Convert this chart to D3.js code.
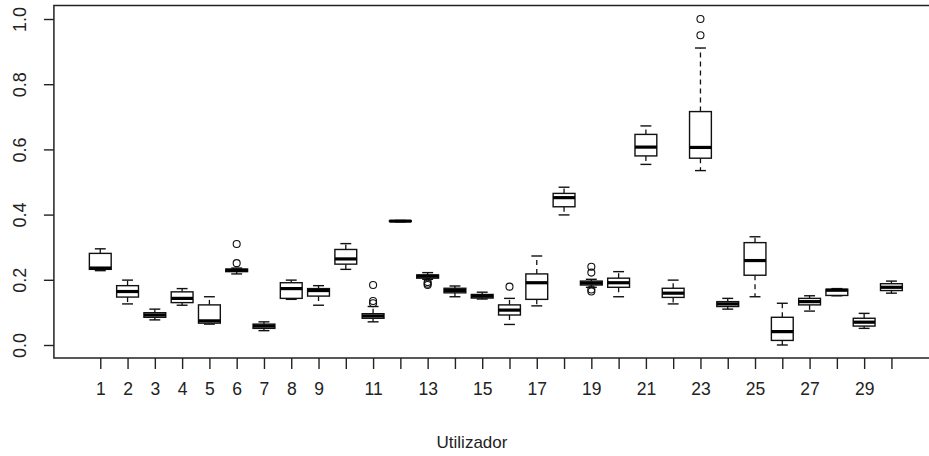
<!DOCTYPE html>
<html>
<head>
<meta charset="utf-8">
<script src="https://cdn.jsdelivr.net/npm/d3@7"></script>
<style>
  html, body { margin: 0; padding: 0; background: #fff; }
  svg { display: block; }
  text { font-family: "Liberation Sans", Arial, sans-serif; fill: #222; }
</style>
</head>
<body>
<svg id="chart" width="929" height="456"></svg>
<script>
// ---- data ----
const categories = d3.range(1, 31);
const whiskerLow  = [0.228,0.126,0.077,0.122,0.064,0.218,0.044,0.140,0.122,0.232,
                     0.071,0.378,0.2015,0.148,0.141,0.063,0.120,0.399,0.177,0.148,
                     0.554,0.126,0.535,0.110,0.148,0.000,0.104,0.151,0.051,0.159];
const q1Values    = [0.232,0.147,0.085,0.130,0.067,0.225,0.051,0.143,0.150,0.248,
                     0.082,0.379,0.205,0.160,0.144,0.092,0.140,0.424,0.184,0.177,
                     0.580,0.146,0.573,0.118,0.214,0.014,0.123,0.152,0.058,0.167];
const medianValues= [0.236,0.164,0.092,0.143,0.074,0.229,0.058,0.173,0.167,0.264,
                     0.089,0.380,0.211,0.167,0.150,0.107,0.191,0.452,0.190,0.191,
                     0.607,0.159,0.606,0.126,0.259,0.041,0.133,0.168,0.070,0.177];
const q3Values    = [0.281,0.182,0.099,0.163,0.123,0.233,0.064,0.191,0.173,0.293,
                     0.096,0.381,0.215,0.174,0.155,0.123,0.218,0.465,0.196,0.205,
                     0.646,0.174,0.716,0.133,0.314,0.085,0.143,0.171,0.082,0.188];
const whiskerHigh = [0.295,0.199,0.110,0.173,0.148,0.236,0.071,0.199,0.182,0.311,
                     0.118,0.382,0.222,0.181,0.162,0.143,0.273,0.484,0.2015,0.225,
                     0.672,0.199,0.911,0.143,0.332,0.128,0.151,0.173,0.097,0.196];
const outlierValues = [[],[],[],[],[],[0.310,0.251],[],[],[],[],
                       [0.184,0.135,0.128],[],[0.193,0.188,0.184],[],[],[0.179],[],[],[0.240,0.222,0.170,0.164],[],
                       [],[],[1.000,0.950],[],[],[],[],[],[],[]];
const xTickLabels = ["1","2","3","4","5","6","7","8","9","11","13","15","17","19","21","23","25","27","29"];
const yTickValues = [0, 0.2, 0.4, 0.6, 0.8, 1.0];
const xTitle = "Utilizador";

// ---- layout ----
const svg = d3.select("#chart");
const x = d3.scaleLinear().domain([-0.7, 31.7]).range([53.9, 937.8]);
const y = d3.scaleLinear().domain([-0.0399, 1.0414]).range([358, 5.5]);
const step = x(2) - x(1);
const boxW = step * 0.8;
const capW = boxW * 0.5;

const rows = categories.map((c, i) => ({
  c, lo: whiskerLow[i], q1: q1Values[i], med: medianValues[i],
  q3: q3Values[i], hi: whiskerHigh[i], out: outlierValues[i]
}));

const g = svg.append("g");
const boxes = g.selectAll("g.box").data(rows).join("g").attr("class", "box");

// whiskers (dashed)
boxes.append("line")
  .attr("x1", d => x(d.c)).attr("x2", d => x(d.c))
  .attr("y1", d => y(d.q3)).attr("y2", d => y(d.hi))
  .attr("stroke", "#111").attr("stroke-width", 1.3).attr("stroke-dasharray", "5,4");
boxes.append("line")
  .attr("x1", d => x(d.c)).attr("x2", d => x(d.c))
  .attr("y1", d => y(d.q1)).attr("y2", d => y(d.lo))
  .attr("stroke", "#111").attr("stroke-width", 1.3).attr("stroke-dasharray", "5,4");
// staples
boxes.append("line")
  .attr("x1", d => x(d.c) - capW/2).attr("x2", d => x(d.c) + capW/2)
  .attr("y1", d => y(d.hi)).attr("y2", d => y(d.hi))
  .attr("stroke", "#111").attr("stroke-width", 1.4);
boxes.append("line")
  .attr("x1", d => x(d.c) - capW/2).attr("x2", d => x(d.c) + capW/2)
  .attr("y1", d => y(d.lo)).attr("y2", d => y(d.lo))
  .attr("stroke", "#111").attr("stroke-width", 1.4);
// box
boxes.append("rect")
  .attr("x", d => x(d.c) - boxW/2).attr("width", boxW)
  .attr("y", d => y(d.q3)).attr("height", d => Math.max(0.01, y(d.q1) - y(d.q3)))
  .attr("fill", "#fff").attr("stroke", "#111").attr("stroke-width", 1.4);
// median
boxes.append("line")
  .attr("x1", d => x(d.c) - boxW/2).attr("x2", d => x(d.c) + boxW/2)
  .attr("y1", d => y(d.med)).attr("y2", d => y(d.med))
  .attr("stroke", "#000").attr("stroke-width", 3.2);
// outliers
boxes.selectAll("circle").data(d => d.out.map(v => ({c: d.c, v}))).join("circle")
  .attr("cx", d => x(d.c)).attr("cy", d => y(d.v)).attr("r", 3.5)
  .attr("fill", "none").attr("stroke", "#111").attr("stroke-width", 1.1);

// frame
svg.append("rect")
  .attr("x", x(-0.7)).attr("y", y(1.0414))
  .attr("width", x(31.7) - x(-0.7)).attr("height", y(-0.0399) - y(1.0414))
  .attr("fill", "none").attr("stroke", "#222").attr("stroke-width", 1.5);

// x axis
const xAxis = d3.axisBottom(x)
  .tickValues(categories)
  .tickSize(11).tickSizeOuter(0).tickPadding(14)
  .tickFormat(d => xTickLabels.includes(String(d)) ? String(d) : "");
const gx = svg.append("g").attr("transform", `translate(0,${y(-0.0399)})`).call(xAxis);
gx.select(".domain").remove();
gx.selectAll(".tick line").attr("stroke", "#222").attr("stroke-width", 1.4);
gx.selectAll(".tick text").style("font-size", "17.5px").attr("fill", "#222");

// y axis
const yAxis = d3.axisLeft(y).tickValues(yTickValues).tickSize(10).tickSizeOuter(0)
  .tickFormat(d3.format(".1f"));
const gy = svg.append("g").attr("transform", `translate(${x(-0.7)},0)`).call(yAxis);
gy.select(".domain").remove();
gy.selectAll(".tick line").attr("stroke", "#222").attr("stroke-width", 1.4);
gy.selectAll(".tick text")
  .style("font-size", "18px").attr("fill", "#222")
  .attr("text-anchor", "middle")
  .attr("x", 0).attr("dy", null).attr("y", -(x(-0.7) - 26))
  .attr("transform", "rotate(-90)");

// x title
svg.append("text")
  .attr("x", 472).attr("y", 448.3)
  .attr("text-anchor", "middle")
  .style("font-size", "17px")
  .text(xTitle);
</script>
</body>
</html>
